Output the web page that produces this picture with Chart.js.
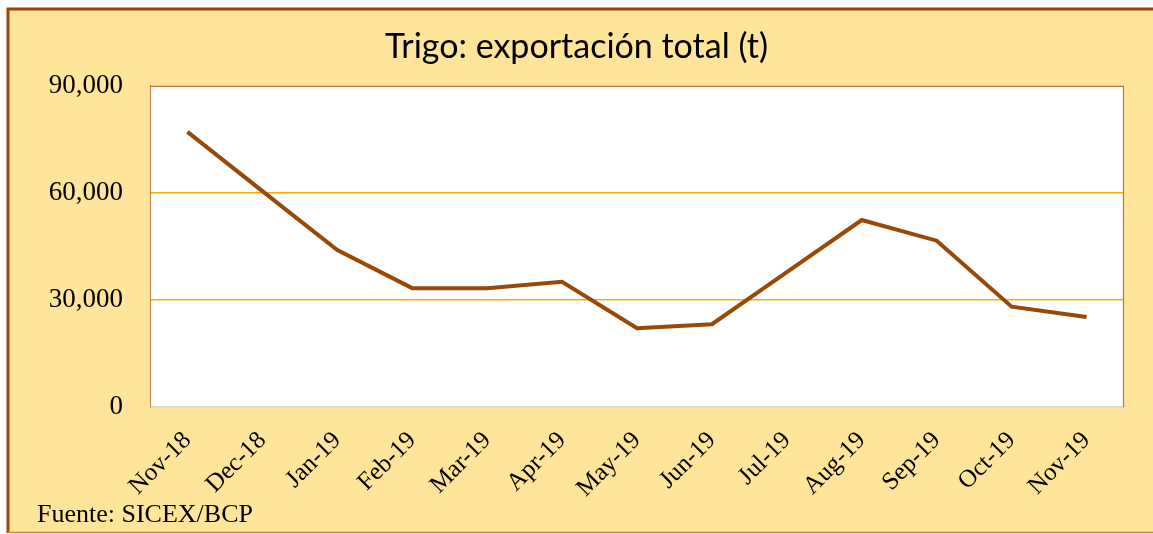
<!DOCTYPE html>
<html>
<head>
<meta charset="utf-8">
<script src="https://cdn.jsdelivr.net/npm/chart.js@4/dist/chart.umd.min.js"></script>
<style>
  html, body { margin: 0; padding: 0; background: #fff; }
  #wrap { width: 1153px; height: 534px; }
</style>
</head>
<body>
<div id="wrap"><canvas id="trigoChart"></canvas></div>
<script>
const months = ['Nov-18', 'Dec-18', 'Jan-19', 'Feb-19', 'Mar-19', 'Apr-19', 'May-19',
  'Jun-19', 'Jul-19', 'Aug-19', 'Sep-19', 'Oct-19', 'Nov-19'];
const exportTotal = [77100, 60500, 44000, 33300, 33300, 35100, 22100,
  23200, 37800, 52400, 46600, 28100, 25200];
const yTicks = [0, 30000, 60000, 90000];

const serif = '"Liberation Serif", "Times New Roman", serif';

// background panel, plot area border and the source note
const framePlugin = {
  id: 'frame',
  beforeDraw(chart) {
    const ctx = chart.ctx;
    const a = chart.chartArea;
    ctx.save();
    ctx.fillStyle = '#ffffff';
    ctx.fillRect(0, 0, chart.width, chart.height);
    ctx.fillStyle = '#FFE599';
    ctx.fillRect(8, 9, chart.width - 8, chart.height - 10);
    ctx.strokeStyle = '#984807';
    ctx.lineWidth = 3;
    ctx.beginPath();
    ctx.moveTo(8, chart.height - 1);
    ctx.lineTo(8, 9);
    ctx.lineTo(chart.width, 9);
    ctx.stroke();
    ctx.strokeStyle = '#C8843C';
    ctx.lineWidth = 1.5;
    ctx.beginPath();
    ctx.moveTo(8, chart.height - 1.5);
    ctx.lineTo(chart.width, chart.height - 1.5);
    ctx.stroke();
    ctx.fillStyle = '#ffffff';
    ctx.fillRect(a.left, a.top, a.right - a.left, a.bottom - a.top);
    ctx.restore();
  },
  afterDraw(chart) {
    const ctx = chart.ctx;
    const a = chart.chartArea;
    ctx.save();
    ctx.strokeStyle = '#B87540';
    ctx.lineWidth = 1.2;
    ctx.beginPath();
    ctx.moveTo(a.left, a.top + 0.5);
    ctx.lineTo(a.right - 0.5, a.top + 0.5);
    ctx.lineTo(a.right - 0.5, a.bottom);
    ctx.stroke();
    ctx.fillStyle = '#000';
    ctx.font = '26px ' + serif;
    ctx.textBaseline = 'alphabetic';
    ctx.fillText('Fuente: SICEX/BCP', 37, 522);
    ctx.restore();
  }
};

new Chart(document.getElementById('trigoChart'), {
  type: 'line',
  data: {
    labels: months,
    datasets: [{
      data: exportTotal,
      borderColor: '#984807',
      borderWidth: 4,
      pointRadius: 0,
      tension: 0,
      fill: false,
    }],
  },
  options: {
    responsive: true,
    maintainAspectRatio: false,
    animation: false,
    layout: { padding: 0 },
    plugins: {
      legend: { display: false },
      tooltip: { enabled: false },
      title: {
        display: true,
        text: 'Trigo: exportación total (t)',
        color: '#000',
        font: { family: 'Lato, "Open Sans", sans-serif', size: 34, weight: 'normal', lineHeight: 1.2 },
        padding: { top: 27, bottom: 18 },
      },
    },
    scales: {
      x: {
        offset: true,
        grid: { display: false, drawTicks: false },
        border: { display: true, color: '#D9D9D9', width: 2 },
        ticks: {
          color: '#000',
          font: { family: serif, size: 25 },
          minRotation: 45,
          maxRotation: 45,
          autoSkip: false,
          padding: 19,
        },
        afterFit(scale) { scale.height = 127; },
      },
      y: {
        min: 0,
        max: 90000,
        afterBuildTicks(scale) { scale.ticks = yTicks.map((v) => ({ value: v })); },
        grid: {
          drawTicks: false,
          color: (c) => (c.tick && (c.tick.value === 30000 || c.tick.value === 60000)) ? '#FFA800' : 'rgba(0,0,0,0)',
          lineWidth: 1.5,
        },
        border: { display: true, color: '#C08050', width: 1 },
        ticks: {
          color: '#000',
          font: { family: serif, size: 27 },
          padding: 27,
          callback: (v) => Number(v).toLocaleString('en-US'),
        },
        afterFit(scale) { scale.width = 150; },
      },
      yRight: {
        position: 'right',
        display: true,
        grid: { display: false, drawTicks: false },
        border: { display: false },
        ticks: { display: false },
        afterFit(scale) { scale.width = 29; },
      },
    },
  },
  plugins: [framePlugin],
});
</script>
</body>
</html>
